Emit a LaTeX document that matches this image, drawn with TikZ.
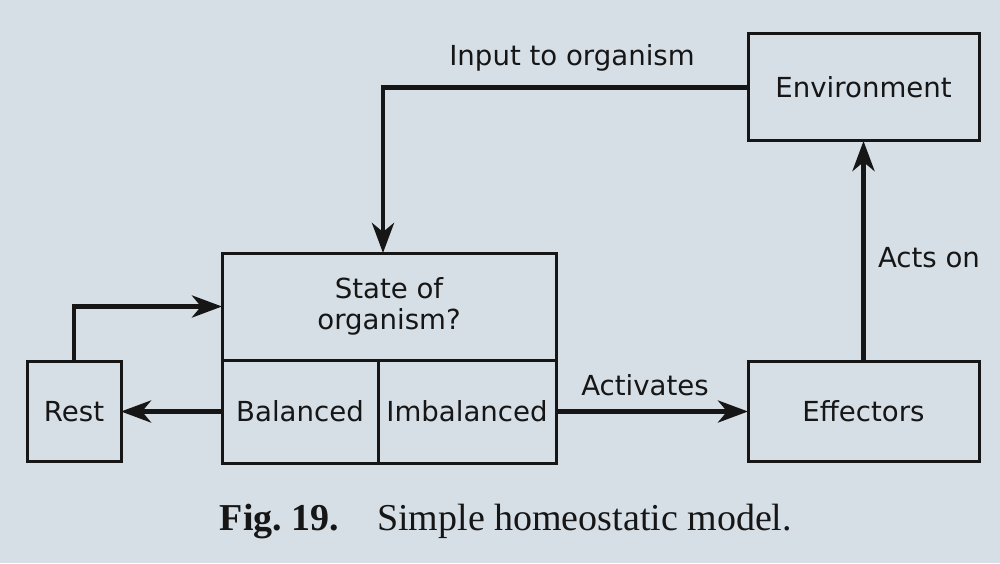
\documentclass[tikz,border=0pt]{standalone}
\usepackage{fontspec}
\setsansfont{DejaVu Sans}
\setmainfont{Liberation Serif}
\usepackage{tikz}
\usetikzlibrary{arrows.meta}

\definecolor{paper}{RGB}{214,222,230}
\definecolor{ink}{RGB}{22,22,22}

\tikzset{
  box/.style={draw=ink, text=ink, line width=1.5pt, inner sep=0pt, outer sep=0pt,
    align=center, font=\sffamily\fontsize{13.8}{15.5}\selectfont},
  arr/.style={draw=ink, line width=2.4pt, -{Stealth[length=15pt, width=11pt, inset=4.5pt]}},
  lbl/.style={text=ink, font=\sffamily\fontsize{13.8}{15.5}\selectfont},
}

\begin{document}
\begin{tikzpicture}[x=0.5pt, y=0.5pt]
        \fill [paper] (0, 0) rectangle (1000, 563);
        \useasboundingbox (0, 0) rectangle (1000, 563);

        \node [box, minimum width=115.5pt, minimum height=53.5pt] (env) at (863.5, 475.5) {Environment};
        \node [box, minimum width=115.5pt, minimum height=50pt] (eff) at (863.5, 151.5) {Effectors};
        \node [box, minimum width=167pt, minimum height=53.5pt] (state) at (389, 256.5) {State of\\organism?};
        \node [box, minimum width=78pt, minimum height=51.5pt] (bal) at (300, 151.5) {Balanced};
        \node [box, minimum width=89pt, minimum height=51.5pt] (imbal) at (467, 151.5) {Imbalanced};
        \node [box, minimum width=47pt, minimum height=50pt] (rest) at (74, 151.5) {Rest};
        \coordinate (drop) at (383, 310);

        \draw [arr] (env.west) -| (drop);
        \draw [arr] (rest.north) |- (state.west);
        \draw [arr] (bal.west) -- (rest.east);
        \draw [arr] (imbal.east) -- (eff.west);
        \draw [arr] (eff.north) -- (env.south);

        \node [lbl] (input) at (572, 505) {Input to organism};
        \node [lbl] (activ) at (645, 178) {Activates};
        \node [lbl] (acts) at (929, 305) {Acts on};

        \node [text=ink, font=\frenchspacing\fontsize{19}{22}\selectfont] (caption) at (506, 41) {\textbf{Fig. 19.}\quad Simple homeostatic model.};
      \end{tikzpicture}
\end{document}
